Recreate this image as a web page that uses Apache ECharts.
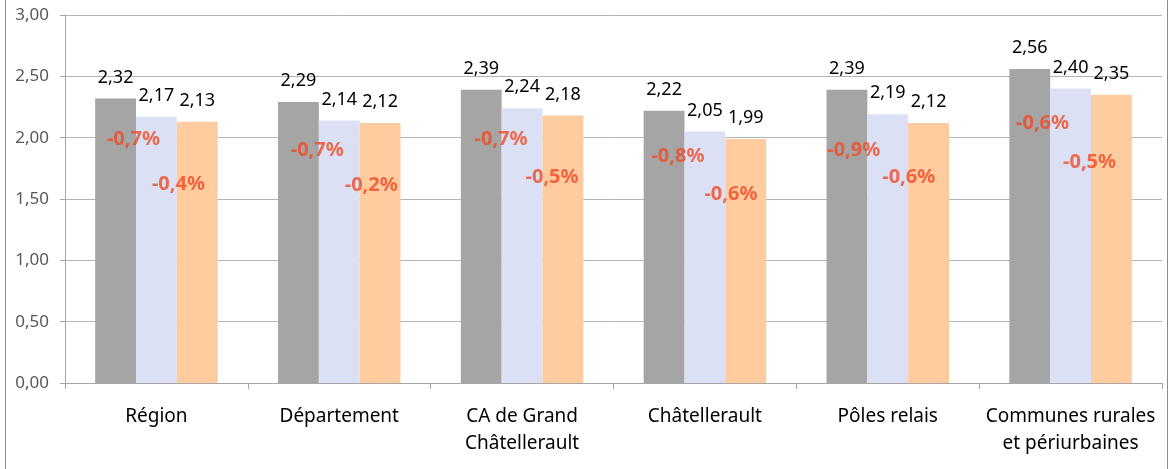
<!DOCTYPE html>
<html>
<head>
<meta charset="utf-8">
<script src="https://cdn.jsdelivr.net/npm/echarts@6/dist/echarts.min.js"></script>
<style>
  html, body { margin: 0; padding: 0; background: #fff; }
  #main { width: 1169px; height: 469px; }
</style>
</head>
<body>
<div id="main"></div>
<script>
var categories = ['Région', 'Département', 'CA de Grand\nChâtellerault', 'Châtellerault', 'Pôles relais', 'Communes rurales\net périurbaines'];
var serieA = [2.32, 2.29, 2.39, 2.22, 2.39, 2.56];
var serieB = [2.17, 2.14, 2.24, 2.05, 2.19, 2.40];
var serieC = [2.13, 2.12, 2.18, 1.99, 2.12, 2.35];
var evol1 = ['-0,7%', '-0,7%', '-0,7%', '-0,8%', '-0,9%', '-0,6%'];
var evol2 = ['-0,4%', '-0,2%', '-0,5%', '-0,6%', '-0,6%', '-0,5%'];
var yTicks = [0, 0.5, 1, 1.5, 2, 2.5, 3];

// where the percent labels sit (value height, pixel shift from category centre)
var evol1Pos = [[1.99, -23], [1.90, -22], [1.99, -21], [1.85, -27], [1.90, -34], [2.12, -28]];
var evol2Pos = [[1.62, 22], [1.61, 32], [1.68, 30], [1.54, 26], [1.68, 21], [1.80, 19]];

var fmt = function (v) { return v.toFixed(2).replace('.', ','); };

function pctSeries(texts, pos) {
    return {
        type: 'scatter',
        symbolSize: 0,
        silent: true,
        z: 5,
        data: texts.map(function (t, i) {
            return {
                value: [i, pos[i][0]],
                label: { offset: [pos[i][1], 0] }
            };
        }),
        label: {
            show: true,
            position: 'inside',
            formatter: function (p) { return texts[p.dataIndex]; },
            color: '#f04a25',
            fontWeight: 'bold',
            fontSize: 20,
            fontFamily: 'Noto Sans'
        }
    };
}

function barSeries(data, color) {
    return {
        type: 'bar',
        data: data,
        barGap: '0%',
        barCategoryGap: '33%',
        itemStyle: { color: color },
        label: {
            show: true,
            position: 'top',
            distance: 12,
            formatter: function (p) { return fmt(p.value); },
            color: '#000',
            fontSize: 18,
            fontFamily: 'Noto Sans'
        }
    };
}

var myChart = echarts.init(document.getElementById('main'));
var option = {
    animation: false,
    textStyle: { fontFamily: 'Noto Sans' },
    grid: { left: 65, right: 7, top: 15, bottom: 86 },
    xAxis: {
        type: 'category',
        data: categories,
        axisLine: { lineStyle: { color: '#a6a6a6', width: 1 } },
        axisTick: { show: true, length: 6, lineStyle: { color: '#a6a6a6' } },
        axisLabel: { color: '#000', fontSize: 19, lineHeight: 27, margin: 20, interval: 0 }
    },
    yAxis: {
        type: 'value',
        min: yTicks[0],
        max: yTicks[yTicks.length - 1],
        interval: 0.5,
        axisLine: { show: true, lineStyle: { color: '#a6a6a6' } },
        axisTick: { show: true, length: 5, lineStyle: { color: '#a6a6a6' } },
        axisLabel: { color: '#595959', fontSize: 17, margin: 16, formatter: fmt },
        splitLine: { lineStyle: { color: '#b4b4b4' } }
    },
    graphic: [{
        type: 'line',
        shape: { x1: 5.5, y1: 0, x2: 5.5, y2: 469 },
        style: { stroke: '#8c8c8c', lineWidth: 1 }
    }, {
        type: 'line',
        shape: { x1: 1167.5, y1: 0, x2: 1167.5, y2: 469 },
        style: { stroke: '#8c8c8c', lineWidth: 1 }
    }],
    series: [
        barSeries(serieA, '#a5a5a5'),
        barSeries(serieB, '#dbe0f4'),
        barSeries(serieC, '#fecc9f'),
        pctSeries(evol1, evol1Pos),
        pctSeries(evol2, evol2Pos)
    ]
};
myChart.setOption(option);
</script>
</body>
</html>
